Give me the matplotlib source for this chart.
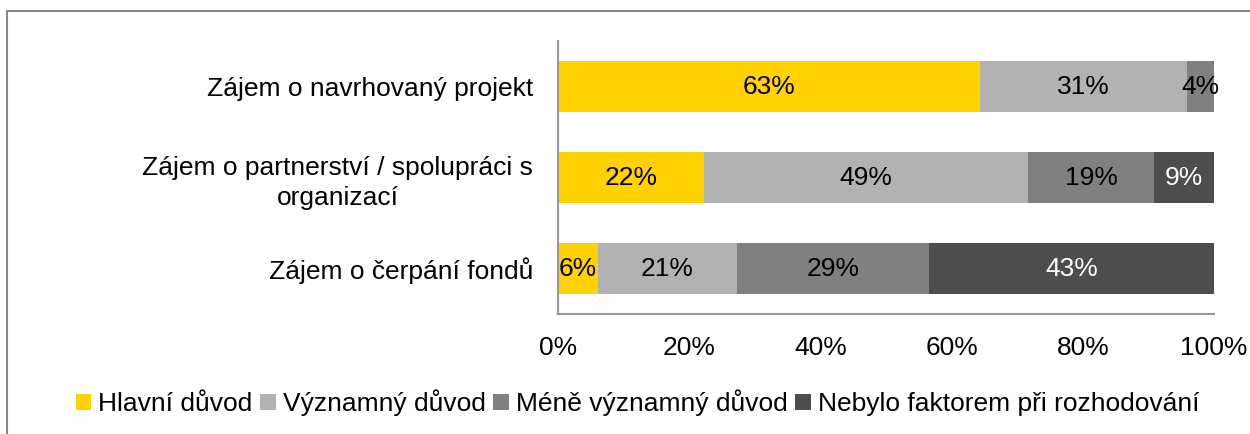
import matplotlib.pyplot as plt
from matplotlib.patches import Rectangle

plt.rcParams['font.family'] = ['Liberation Sans', 'DejaVu Sans']

# Data
kategorie = ['Zájem o navrhovaný projekt',
             'Zájem o partnerství / spolupráci s\norganizací',
             'Zájem o čerpání fondů']
serie = ['Hlavní důvod', 'Významný důvod', 'Méně významný důvod',
         'Nebylo faktorem při rozhodování']
hlavni = [63, 22, 6]
vyznamny = [31, 49, 21]
mene = [4, 19, 29]
nebylo = [0, 9, 43]
barvy = ['#FFD200', '#B2B2B2', '#808080', '#4D4D4D']
barvy_textu = ['black', 'black', 'black', 'white']

hodnoty = [hlavni, vyznamny, mene, nebylo]
soucty = [sum(h[i] for h in hodnoty) for i in range(len(kategorie))]

fig = plt.figure(figsize=(12.5, 4.34), dpi=100)
ax = fig.add_axes([0.4464, 0.2765, 0.5248, 0.629])

# ramecek kolem grafu
fig.patches.append(Rectangle((7 / 1250, -0.1), 1.2, 1 - 11 / 434 + 0.1,
                             transform=fig.transFigure, fill=False,
                             edgecolor='#888888', linewidth=1.5))

y = list(range(len(kategorie)))
zacatek = [0.0] * len(kategorie)
for serie_hodnoty, nazev, barva, tb in zip(hodnoty, serie, barvy, barvy_textu):
    sirky = [v / s * 100 for v, s in zip(serie_hodnoty, soucty)]
    bars = ax.barh(y, sirky, left=zacatek, height=0.57, color=barva, label=nazev)
    for b, v in zip(bars, serie_hodnoty):
        if v > 0:
            ax.text(b.get_x() + b.get_width() / 2, b.get_y() + b.get_height() / 2,
                    f'{v}%', ha='center', va='center', fontsize=19, color=tb)
    zacatek = [z + s for z, s in zip(zacatek, sirky)]

ax.set_xlim(0, 100)
ax.set_ylim(len(kategorie) - 0.5, -0.5)
ax.set_yticks(y)
ax.set_yticklabels(kategorie, fontsize=19, multialignment='center',
                   linespacing=1.3)
ax.set_xticks(range(0, 101, 20))
ax.set_xticklabels([f'{t}%' for t in range(0, 101, 20)], fontsize=19)
ax.tick_params(axis='both', length=0)
ax.tick_params(axis='y', pad=18)
ax.tick_params(axis='x', pad=16)
for s in ['top', 'right']:
    ax.spines[s].set_visible(False)
for s in ['left', 'bottom']:
    ax.spines[s].set_color('#999999')
    ax.spines[s].set_linewidth(1.5)

fig.legend(loc='center', bbox_to_anchor=(0.510, 1 - 403 / 434), ncol=4,
           frameon=False, fontsize=19, handlelength=0.6, handleheight=0.6,
           handletextpad=0.25, columnspacing=0.3)

fig.savefig('out.png', dpi=100)
